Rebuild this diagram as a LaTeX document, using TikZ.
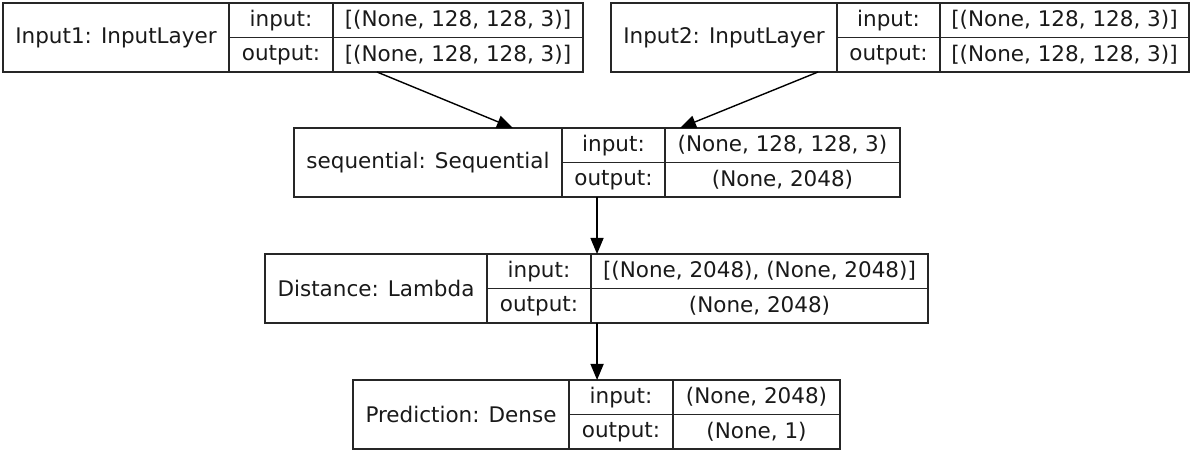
\documentclass[tikz,border=0pt]{standalone}
\usepackage{fontspec}
\setmainfont{DejaVu Sans}
\usetikzlibrary{arrows.meta,calc}

\tikzset{
  cell/.style={draw=black!85, line width=1.7pt, rectangle, inner sep=0pt, outer sep=0pt,
    font=\fontsize{21.5}{25}\selectfont, text=black!90, anchor=north west},
  arr/.style={draw=black, line width=1.4pt, -{Triangle[length=16pt,width=13pt]}},
}

% Keras layer record: #1 name, #2 left, #3 first divider, #4 second divider,
% #5 right, #6 top, #7 layer label, #8 input shape, #9 output shape
\newcommand\kerasrecord[9]{%
  \node[cell, minimum width={(#3-#2)*1pt}, minimum height=69pt] (#1) at (#2,#6) {#7};
  \node[cell, minimum width={(#4-#3)*1pt}, minimum height=34.5pt] (#1-in) at (#3,#6) {input:};
  \node[cell, minimum width={(#4-#3)*1pt}, minimum height=34.5pt] (#1-out) at (#3,#6+34.5) {output:};
  \node[cell, minimum width={(#5-#4)*1pt}, minimum height=34.5pt] (#1-inv) at (#4,#6) {#8};
  \node[cell, minimum width={(#5-#4)*1pt}, minimum height=34.5pt] (#1-outv) at (#4,#6+34.5) {#9};
}

\begin{document}
\begin{tikzpicture}[x=1pt, y=-1pt]
\useasboundingbox (0,0) rectangle (1192,454);

\kerasrecord{in1}{3}{229}{333}{583}{3}{Input1: InputLayer}{[(None, 128, 128, 3)]}{[(None, 128, 128, 3)]}
\kerasrecord{in2}{611}{837}{940}{1189}{3}{Input2: InputLayer}{[(None, 128, 128, 3)]}{[(None, 128, 128, 3)]}
\kerasrecord{seq}{294}{562}{665}{900}{128}{sequential: Sequential}{(None, 128, 128, 3)}{(None, 2048)}
\kerasrecord{dist}{265}{487}{591}{928}{254}{Distance: Lambda}{[(None, 2048), (None, 2048)]}{(None, 2048)}
\kerasrecord{pred}{353}{569}{673}{840}{380}{Prediction: Dense}{(None, 2048)}{(None, 1)}

% edges
\draw[arr] ($(in1-outv.south west)!0.176!(in1-outv.south east)$) -- ($(seq.north west)!0.817!(seq.north east)$);
\draw[arr] ($(in2.south west)!0.916!(in2.south east)$) -- ($(seq-inv.north west)!0.064!(seq-inv.north east)$);
\draw[arr] ($(seq-out.south west)!0.34!(seq-out.south east)$) coordinate (s1) -- (s1 |- dist.north);
\draw[arr] ($(dist-outv.south west)!0.018!(dist-outv.south east)$) coordinate (d1) -- (d1 |- pred.north);
\end{tikzpicture}
\end{document}
